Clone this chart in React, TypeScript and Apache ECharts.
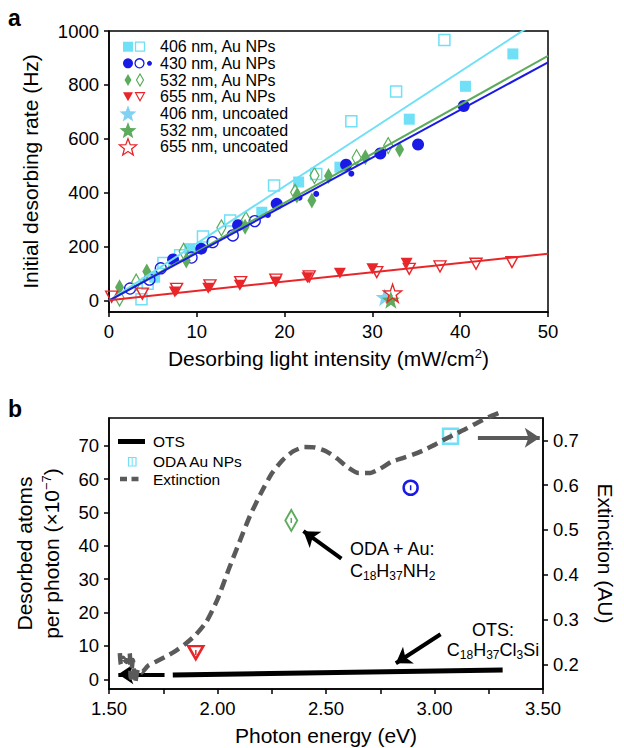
import React, { useEffect, useRef } from 'react';
import * as echarts from 'echarts';

// ---------------- Panel a data ----------------
const xTicksA = [0, 10, 20, 30, 40, 50];
const yTicksA = [0, 200, 400, 600, 800, 1000];

const sq406Filled = [[5.2, 87], [9.2, 193], [17.4, 328], [21.6, 440], [26.3, 495], [34.2, 673], [40.6, 795], [46.0, 915]];
const sq406Open = [[3.7, 5], [4.4, 63], [6.2, 140], [8.1, 168], [10.7, 238], [13.8, 297], [18.8, 427], [23.6, 470], [27.6, 665], [32.7, 776], [38.2, 967]];
const circ430Filled = [[7.3, 153], [10.5, 193], [14.7, 280], [19.1, 359], [27.0, 504], [30.9, 546], [35.2, 579], [40.4, 722]];
const circ430Open = [[2.4, 45], [4.6, 78], [5.9, 120], [9.4, 160], [11.8, 217], [14.1, 242], [16.6, 295]];
const dot430 = [[18.1, 318], [21.7, 382], [23.6, 396], [27.6, 471]];
const dia532Filled = [[1.2, 50], [4.3, 108], [8.8, 149], [15.5, 274], [21.4, 390], [23.1, 371], [25.0, 462], [29.2, 532], [33.1, 561]];
const dia532Open = [[1.2, 10], [3.1, 69], [8.5, 183], [12.8, 270], [15.6, 300], [21.2, 402], [23.4, 464], [28.2, 530], [31.8, 575]];
const tri655Filled = [[7.5, 32], [11.3, 46], [14.9, 57], [19.0, 69], [22.6, 85], [26.3, 102], [30.0, 118], [33.9, 139]];
const tri655Open = [[0.3, 15], [3.8, 26], [7.7, 44], [11.5, 57], [15.0, 69], [19.0, 78], [22.8, 90], [30.5, 106], [34.2, 118], [37.7, 127], [41.8, 137], [45.9, 143]];
const star406Uncoated = [[31.4, 13]];
const star532Uncoated = [[32.1, 3]];
const star655Uncoated = [[32.3, 28]];

const fit406 = [[0, 0], [50, 1062]];
const fit430 = [[0, 0], [50, 884]];
const fit532 = [[0, 0], [50, 908]];
const fit655 = [[0, 2], [50, 174]];

// ---------------- Panel b data ----------------
const xLabelsB = [1.5, 2.0, 2.5, 3.0, 3.5];
const xTicksB = [1.5, 1.75, 2.0, 2.25, 2.5, 2.75, 3.0, 3.25, 3.5];
const yTicksB = [0, 10, 20, 30, 40, 50, 60, 70];
const extTicks = [0.2, 0.3, 0.4, 0.5, 0.6, 0.7];

const ots = [[1.794, 1.3], [3.314, 2.8]];
const oda655 = [[1.9, 8]];
const oda532 = [[2.34, 47.6]];
const oda430 = [[2.89, 57.4]];
const oda406 = [[3.074, 72.8]];
const extinction = [
  [1.55, 0.225], [1.555, 0.2], [1.565, 0.215], [1.58, 0.205], [1.595, 0.225], [1.6, 0.17], [1.61, 0.21],
  [1.62, 0.158], [1.635, 0.19], [1.65, 0.182], [1.68, 0.197], [1.72, 0.207], [1.76, 0.217], [1.8, 0.228],
  [1.85, 0.245], [1.9, 0.266], [1.95, 0.296], [2.0, 0.345], [2.05, 0.41], [2.1, 0.472], [2.15, 0.532],
  [2.2, 0.582], [2.25, 0.626], [2.3, 0.656], [2.35, 0.676], [2.4, 0.685], [2.45, 0.684], [2.5, 0.676],
  [2.55, 0.66], [2.6, 0.64], [2.65, 0.627], [2.7, 0.627], [2.75, 0.637], [2.8, 0.652], [2.85, 0.66],
  [2.9, 0.668], [2.95, 0.678], [3.0, 0.69], [3.05, 0.703], [3.1, 0.715], [3.15, 0.727], [3.2, 0.74],
  [3.25, 0.752], [3.3, 0.762],
];
const arrowOtsLeft = [[1.756, 1.5], [1.543, 1.5]];
const arrowOda = [[2.571, 36.2], [2.396, 44.4]];
const arrowOts = [[3.028, 13.5], [2.822, 4.8]];
const arrowExt = [[3.2, 0.706], [3.485, 0.706]];

// ---------------- styling ----------------
const FONT = '"Liberation Sans", Arial, Helvetica, sans-serif';
const CYAN = '#6fe0f6';
const STARCYAN = '#80d2f0';
const BLUE = '#1a1ae6';
const GREEN = '#5dab5d';
const RED = '#e8262a';
const GRAY = '#5a5a5a';
const STAR = 'path://M0,-10 L2.35,-3.24 9.51,-3.09 3.8,1.24 5.88,8.09 0,4 -5.88,8.09 -3.8,1.24 -9.51,-3.09 -2.35,-3.24Z';
const TICK_FS = 18.5;
const TITLE_FS = 21;

const supRich = { sup: { fontSize: 13, fontFamily: FONT, color: '#000', padding: [0, 0, 10, 0] } };
const subRich = {
  m: { fontSize: 18, fontFamily: FONT, color: '#000', lineHeight: 20, verticalAlign: 'top' },
  sub: { fontSize: 12, fontFamily: FONT, color: '#000', lineHeight: 12, padding: [10, 0, 0, 0], verticalAlign: 'bottom' },
};

function mkAxis(extra: any) {
  return {
    type: 'value',
    axisLine: { show: true, onZero: false, lineStyle: { color: '#000', width: 1.5 } },
    axisTick: { show: true, inside: false, length: 5, lineStyle: { color: '#000', width: 1.5 }, ...(extra.tick || {}) },
    axisLabel: { color: '#000', fontSize: TICK_FS, fontFamily: FONT, formatter: (v: number) => String(v), ...(extra.label || {}) },
    splitLine: { show: false },
    nameTextStyle: { color: '#000', fontSize: TITLE_FS, fontFamily: FONT, rich: supRich, ...(extra.nameStyle || {}) },
    ...extra.rest,
  };
}

function scatter(name: string, data: any, symbol: any, size: any, fill: string, stroke: string, bw: number, xi: number, yi: number, rotate = 0) {
  return {
    type: 'scatter', name, data, symbol, symbolSize: size, symbolRotate: rotate,
    xAxisIndex: xi, yAxisIndex: yi, silent: true,
    itemStyle: { color: fill, borderColor: stroke, borderWidth: bw, opacity: 1 },
  };
}
function fitLine(name: string, data: any, color: string) {
  return {
    type: 'line', name, data, xAxisIndex: 0, yAxisIndex: 0, showSymbol: false, silent: true,
    lineStyle: { color, width: 2 },
  };
}
function arrow(data: any, color: string, yi: number) {
  return {
    type: 'lines', coordinateSystem: 'cartesian2d', xAxisIndex: 1, yAxisIndex: yi, silent: true,
    symbol: ['none', 'arrow'], symbolSize: 15,
    lineStyle: { color, width: 4, opacity: 1, curveness: 0 },
    data: [{ coords: data }],
  };
}

// legend glyph helpers (pixel positions for legend only)
const diamondPts = (cx: number, cy: number, w: number, h: number) => [[cx, cy - h / 2], [cx + w / 2, cy], [cx, cy + h / 2], [cx - w / 2, cy]];
const triPts = (cx: number, cy: number, w: number, h: number) => [[cx - w / 2, cy - h / 2], [cx + w / 2, cy - h / 2], [cx, cy + h / 2]];
const starPts = (cx: number, cy: number, R: number, r: number) => {
  const p: number[][] = [];
  for (let i = 0; i < 10; i++) {
    const a = -Math.PI / 2 + (i * Math.PI) / 5;
    const rr = i % 2 === 0 ? R : r;
    p.push([cx + rr * Math.cos(a), cy + rr * Math.sin(a)]);
  }
  return p;
};

const legendA = [
  '406 nm, Au NPs', '430 nm, Au NPs', '532 nm, Au NPs', '655 nm, Au NPs',
  '406 nm, uncoated', '532 nm, uncoated', '655 nm, uncoated',
];
const legendB = ['OTS', 'ODA Au NPs', 'Extinction'];

function buildGraphic() {
  const g: any[] = [];
  const rows = [46.7, 63.3, 80, 96.7, 113.3, 130, 146.7];
  legendA.forEach((t, i) => {
    g.push({ type: 'text', x: 160, y: rows[i], style: { text: t, fontSize: 16, fontFamily: FONT, fill: '#000', verticalAlign: 'middle' } });
  });
  const fx = 128, ox = 140;
  g.push({ type: 'rect', shape: { x: fx - 5, y: rows[0] - 5, width: 10, height: 10 }, style: { fill: CYAN } });
  g.push({ type: 'rect', shape: { x: ox - 4.5, y: rows[0] - 4.5, width: 9, height: 9 }, style: { fill: 'none', stroke: CYAN, lineWidth: 1.3 } });
  g.push({ type: 'circle', shape: { cx: fx, cy: rows[1], r: 5 }, style: { fill: BLUE } });
  g.push({ type: 'circle', shape: { cx: ox - 0.5, cy: rows[1], r: 4.5 }, style: { fill: 'none', stroke: BLUE, lineWidth: 1.3 } });
  g.push({ type: 'circle', shape: { cx: 149.5, cy: rows[1], r: 2.5 }, style: { fill: BLUE } });
  g.push({ type: 'polygon', shape: { points: diamondPts(fx, rows[2], 7, 12) }, style: { fill: GREEN } });
  g.push({ type: 'polygon', shape: { points: diamondPts(ox, rows[2], 7, 12) }, style: { fill: 'none', stroke: GREEN, lineWidth: 1.2 } });
  g.push({ type: 'polygon', shape: { points: triPts(fx, rows[3], 10, 9) }, style: { fill: RED } });
  g.push({ type: 'polygon', shape: { points: triPts(ox, rows[3], 9, 8) }, style: { fill: 'none', stroke: RED, lineWidth: 1.2 } });
  g.push({ type: 'polygon', shape: { points: starPts(fx, rows[4] + 1, 9, 3.8) }, style: { fill: STARCYAN } });
  g.push({ type: 'polygon', shape: { points: starPts(fx, rows[5] + 1, 9, 3.8) }, style: { fill: GREEN } });
  g.push({ type: 'polygon', shape: { points: starPts(fx, rows[6] + 1, 9, 3.8) }, style: { fill: 'none', stroke: RED, lineWidth: 1.3 } });

  // panel labels
  g.push({ type: 'text', x: 8, y: 6, style: { text: 'a', fontSize: 23, fontWeight: 'bold', fontFamily: FONT, fill: '#000' } });
  g.push({ type: 'text', x: 8, y: 397, style: { text: 'b', fontSize: 23, fontWeight: 'bold', fontFamily: FONT, fill: '#000' } });

  // panel b legend
  g.push({ type: 'line', shape: { x1: 118, y1: 441.5, x2: 145, y2: 441.5 }, style: { stroke: '#000', lineWidth: 5 } });
  g.push({ type: 'rect', shape: { x: 128.5, y: 457.5, width: 7.5, height: 8.5 }, style: { fill: 'none', stroke: CYAN, lineWidth: 1.2 } });
  g.push({ type: 'line', shape: { x1: 132.2, y1: 458, x2: 132.2, y2: 465.5 }, style: { stroke: CYAN, lineWidth: 1 } });
  g.push({ type: 'line', shape: { x1: 120, y1: 479, x2: 138.5, y2: 479 }, style: { stroke: GRAY, lineWidth: 4.5, lineDash: [7, 4.5] } });
  const ly = [441.5, 461.5, 479];
  legendB.forEach((t, i) => {
    g.push({ type: 'text', x: 153, y: ly[i], style: { text: t, fontSize: 15.5, fontFamily: FONT, fill: '#000', verticalAlign: 'middle' } });
  });

  // annotations
  g.push({ type: 'text', x: 350, y: 549, style: { text: 'ODA + Au:', fontSize: 18, fontFamily: FONT, fill: '#000', verticalAlign: 'middle' } });
  g.push({ type: 'text', x: 350, y: 562, style: { text: '{m|C}{sub|18}{m|H}{sub|37}{m|NH}{sub|2}', rich: subRich, fill: '#000' } });
  g.push({ type: 'text', x: 493, y: 630, style: { text: 'OTS:', fontSize: 18, fontFamily: FONT, fill: '#000', align: 'center', verticalAlign: 'middle' } });
  g.push({ type: 'text', x: 493, y: 641, style: { text: '{m|C}{sub|18}{m|H}{sub|37}{m|Cl}{sub|3}{m|Si}', rich: subRich, fill: '#000', align: 'center' } });
  return g;
}

const option: any = {
  animation: false,
  backgroundColor: '#fff',
  textStyle: { fontFamily: FONT },
  grid: [
    { left: 109, top: 31, width: 439, height: 281, show: true, borderColor: '#000', borderWidth: 1.5, backgroundColor: 'transparent' },
    { left: 109, top: 418, width: 438, height: 271, show: true, borderColor: '#000', borderWidth: 1.5, backgroundColor: 'transparent' },
  ],
  xAxis: [
    mkAxis({
      label: { margin: 10, customValues: xTicksA },
      tick: { customValues: xTicksA },
      rest: { gridIndex: 0, min: 0, max: 50, name: 'Desorbing light intensity (mW/cm{sup|2})', nameLocation: 'middle', nameGap: 35 },
    }),
    mkAxis({
      label: { margin: 10, customValues: xLabelsB, formatter: (v: number) => v.toFixed(2) },
      tick: { customValues: xTicksB },
      rest: { gridIndex: 1, min: 1.5, max: 3.5, name: 'Photon energy (eV)', nameLocation: 'middle', nameGap: 36 },
    }),
  ],
  yAxis: [
    mkAxis({
      label: { margin: 10, customValues: yTicksA },
      tick: { customValues: yTicksA },
      rest: { gridIndex: 0, min: -42, max: 1000, name: 'Initial desorbing rate (Hz)', nameLocation: 'middle', nameGap: 68 },
    }),
    mkAxis({
      label: { margin: 10, customValues: yTicksB },
      tick: { customValues: yTicksB },
      nameStyle: { lineHeight: 27 },
      rest: { gridIndex: 1, min: -2.9, max: 78.3, name: 'Desorbed atoms\nper photon (×10{sup|−7})', nameLocation: 'middle', nameGap: 44 },
    }),
    mkAxis({
      label: { margin: 10, customValues: extTicks, formatter: (v: number) => v.toFixed(1) },
      tick: { customValues: extTicks },
      rest: { gridIndex: 1, position: 'right', min: 0.145, max: 0.75, name: 'Extinction (AU)', nameLocation: 'middle', nameRotate: -90, nameGap: 52 },
    }),
  ],
  graphic: buildGraphic(),
  series: [
    scatter('406 nm, Au NPs', sq406Filled, 'rect', 11, CYAN, CYAN, 0, 0, 0),
    scatter('406 nm, Au NPs open', sq406Open, 'rect', 11, 'rgba(0,0,0,0)', CYAN, 1.5, 0, 0),
    scatter('430 nm, Au NPs', circ430Filled, 'circle', 12, BLUE, BLUE, 0, 0, 0),
    scatter('430 nm, Au NPs open', circ430Open, 'circle', 11, 'rgba(0,0,0,0)', BLUE, 1.3, 0, 0),
    scatter('430 nm, Au NPs small', dot430, 'circle', 6, BLUE, BLUE, 0, 0, 0),
    scatter('532 nm, Au NPs', dia532Filled, 'diamond', [9, 16], GREEN, GREEN, 0, 0, 0),
    scatter('532 nm, Au NPs open', dia532Open, 'diamond', [9, 16], 'rgba(0,0,0,0)', GREEN, 1.3, 0, 0),
    scatter('655 nm, Au NPs', tri655Filled, 'triangle', [12, 11], RED, RED, 0, 0, 0, 180),
    scatter('655 nm, Au NPs open', tri655Open, 'triangle', [12, 11], 'rgba(0,0,0,0)', RED, 1.4, 0, 0, 180),
    scatter('406 nm, uncoated', star406Uncoated, STAR, 18, STARCYAN, STARCYAN, 0, 0, 0),
    scatter('532 nm, uncoated', star532Uncoated, STAR, 18, GREEN, GREEN, 0, 0, 0),
    scatter('655 nm, uncoated', star655Uncoated, STAR, 18, 'rgba(0,0,0,0)', RED, 1.4, 0, 0),
    fitLine('fit 406', fit406, CYAN),
    fitLine('fit 532', fit532, GREEN),
    fitLine('fit 430', fit430, BLUE),
    fitLine('fit 655', fit655, RED),

    {
      type: 'line', name: 'Extinction', data: extinction, xAxisIndex: 1, yAxisIndex: 2, showSymbol: false, silent: true,
      smooth: 0.2, clip: false, lineStyle: { color: GRAY, width: 4.5, type: [11, 6] },
    },
    {
      type: 'line', name: 'OTS', data: ots, xAxisIndex: 1, yAxisIndex: 1, showSymbol: false, silent: true,
      lineStyle: { color: '#000', width: 5 },
    },
    scatter('655 nm ODA', oda655, 'triangle', [15, 13], 'rgba(0,0,0,0)', RED, 2.5, 1, 1, 180),
    scatter('532 nm ODA', oda532, 'diamond', [12, 21], 'rgba(0,0,0,0)', GREEN, 2, 1, 1),
    scatter('430 nm ODA', oda430, 'circle', 14, 'rgba(0,0,0,0)', BLUE, 2.5, 1, 1),
    scatter('ODA Au NPs', oda406, 'rect', 15, 'rgba(0,0,0,0)', CYAN, 2.5, 1, 1),
    scatter('err 655', oda655, 'rect', [1.5, 5], RED, RED, 0, 1, 1),
    scatter('err 532', oda532, 'rect', [1.5, 5], GREEN, GREEN, 0, 1, 1),
    scatter('err 430', oda430, 'rect', [1.5, 5], BLUE, BLUE, 0, 1, 1),
    scatter('err 406', oda406, 'rect', [1.5, 8], CYAN, CYAN, 0, 1, 1),
    arrow(arrowOtsLeft, '#000', 1),
    arrow(arrowOda, '#000', 1),
    arrow(arrowOts, '#000', 1),
    arrow(arrowExt, GRAY, 2),
  ],
};

export default function App() {
  const ref = useRef<HTMLDivElement>(null);
  useEffect(() => {
    const chart = echarts.init(ref.current!, null, { renderer: 'svg' });
    chart.setOption(option);
    return () => chart.dispose();
  }, []);
  return <div ref={ref} style={{ position: 'absolute', left: 0, top: 0, width: 624, height: 748, background: '#fff' }} />;
}
